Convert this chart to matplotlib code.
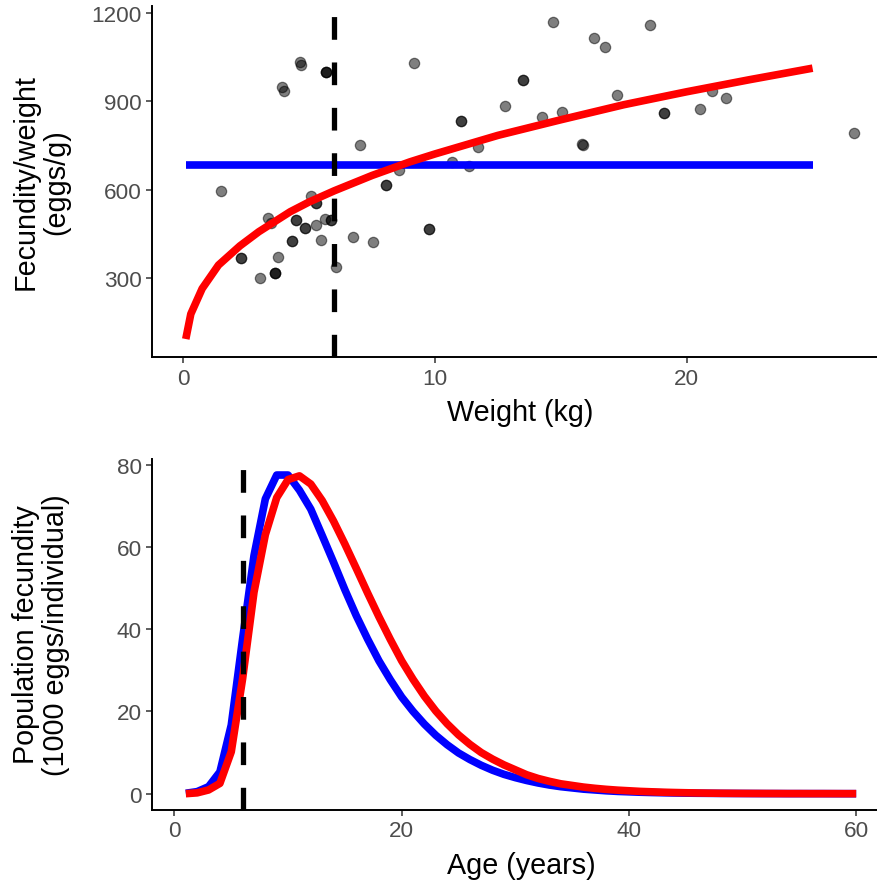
import matplotlib
matplotlib.use("Agg")
import matplotlib.pyplot as plt

plt.rcParams['font.family'] = ['Liberation Sans', 'DejaVu Sans']

# --- top panel: fecundity per unit weight vs weight
weight = [1.50, 2.28, 2.28, 3.05, 3.63, 3.63, 3.63, 3.76, 3.35, 3.47, 3.93, 4.00,
          4.32, 4.32, 4.47, 4.47, 4.64, 4.69, 4.84, 4.84, 5.07, 5.27, 5.27, 5.27,
          5.46, 5.64, 5.66, 5.66, 5.66, 5.87, 5.87, 6.07, 6.75, 7.03, 7.52, 8.05,
          8.05, 8.58, 9.17, 9.75, 9.75, 10.68, 11.02, 11.02, 11.35, 11.70, 12.79,
          13.51, 13.51, 14.25, 14.68, 15.06, 15.85, 15.89, 16.32, 16.77, 17.23,
          18.53, 19.09, 19.09, 20.52, 21.02, 21.57, 26.65]
fec_per_weight = [595, 370, 370, 300, 318, 318, 318, 372, 504, 487, 948, 936,
                  426, 426, 499, 499, 1033, 1025, 470, 470, 578, 554, 554, 481,
                  429, 501, 1001, 1001, 1001, 499, 499, 338, 440, 752, 422, 615,
                  615, 667, 1030, 466, 466, 695, 835, 835, 682, 746, 885,
                  974, 974, 848, 1170, 863, 757, 753, 1114, 1085, 923,
                  1158, 860, 860, 875, 936, 913, 794]

# fitted curves
fit_weight = [0.1, 0.3, 0.75, 1.4, 2.25, 3.0, 4.25, 5.0, 6.0, 7.5, 9.0, 10.0,
              12.5, 15.0, 17.5, 20.0, 22.5, 25.0]
fit_power = [94, 179, 265, 345, 410, 458, 526, 559, 597, 649, 695, 722,
             785, 838, 889, 933, 974, 1013]
const_weight = [0.1, 25.0]
const_fec = [684, 684]
mat_weight = 6

# --- bottom panel: population fecundity by age
ages = list(range(1, 61))
pop_const = [0.1, 0.5, 1.7, 5.3, 16.7, 37.7, 57.9, 71.7, 77.5, 77.5,
             73.8, 69.2, 62.8, 56.3, 49.6, 43.3, 37.6, 32.3, 27.7, 23.5,
             20.0, 16.9, 14.2, 11.9, 9.9, 8.3, 6.9, 5.7, 4.7, 3.9,
             3.2, 2.6, 2.1, 1.7, 1.4, 1.1, 0.9, 0.7, 0.55, 0.45,
             0.35, 0.28, 0.22, 0.17, 0.13, 0.1, 0.08, 0.06, 0.05, 0.04,
             0.03, 0.02, 0.02, 0.01, 0.01, 0.01, 0.01, 0, 0, 0]
pop_power = [0.0, 0.2, 0.9, 2.5, 10.2, 28.0, 49.0, 63.0, 72.0, 76.4,
             77.3, 75.3, 71.3, 66.3, 60.7, 54.8, 48.8, 43.0, 37.5, 32.3,
             27.8, 23.7, 20.1, 17.0, 14.3, 12.0, 10.0, 8.4, 7.0, 5.8,
             4.6, 3.7, 3.0, 2.4, 2.0, 1.6, 1.3, 1.05, 0.85, 0.7,
             0.55, 0.45, 0.35, 0.28, 0.22, 0.17, 0.13, 0.1, 0.08, 0.06,
             0.05, 0.04, 0.03, 0.02, 0.02, 0.01, 0.01, 0.01, 0, 0]
mat_age = 6

W, H = 878, 887
fig = plt.figure(figsize=(W / 100, H / 100), dpi=100)
ax1 = fig.add_axes([152.3 / W, 1 - 358.3 / H, (887.6 - 152.3) / W, (358.3 - 6.7) / H])
ax2 = fig.add_axes([152.3 / W, 1 - 810.7 / H, (889.7 - 152.3) / W, (810.7 - 460) / H])


def style(ax):
    for s in ['top', 'right']:
        ax.spines[s].set_visible(False)
    for s in ['left', 'bottom']:
        ax.spines[s].set_linewidth(1.4)
        ax.spines[s].set_color('black')
    ax.tick_params(length=4, width=1.1, color='#333333', labelcolor='#4D4D4D',
                   labelsize=16.2, pad=3.4)


lw = 5.5
dash = dict(color='black', lw=3.8, dashes=(4.3, 4.3))

# top
ax1.scatter(weight, fec_per_weight, s=55, c='black', alpha=0.5,
            edgecolors='black', linewidths=0.9, zorder=2)
ax1.plot(const_weight, const_fec, color='#0000FF', lw=lw, solid_capstyle='butt', zorder=3)
ax1.plot(fit_weight, fit_power, color='#FF0000', lw=lw, solid_capstyle='butt', zorder=4)
ax1.axvline(mat_weight, zorder=5, **dash)
ax1.set_xlim(-1.23, 27.98)
ax1.set_ylim(32, 1225)
ax1.set_xticks([0, 10, 20])
ax1.set_yticks([300, 600, 900, 1200])
style(ax1)
ax1.set_xlabel('Weight (kg)', fontsize=20.7, labelpad=7)

# bottom
ax2.plot(ages, pop_const, color='#0000FF', lw=lw, solid_capstyle='butt', zorder=3)
ax2.plot(ages, pop_power, color='#FF0000', lw=lw, solid_capstyle='butt', zorder=4)
ax2.axvline(mat_age, zorder=5, **dash)
ax2.set_xlim(-1.95, 62.95)
ax2.set_ylim(-3.9, 81.4)
ax2.set_xticks([0, 20, 40, 60])
ax2.set_yticks([0, 20, 40, 60, 80])
style(ax2)
ax2.set_xlabel('Age (years)', fontsize=20.7, labelpad=7)

fig.text(41 / W, 1 - 182.5 / H, 'Fecundity/weight\n(eggs/g)', rotation=90,
         ha='center', va='center', multialignment='center', fontsize=20.7,
         linespacing=1.1)
fig.text(41 / W, 1 - 635 / H, 'Population fecundity\n(1000 eggs/individual)', rotation=90,
         ha='center', va='center', multialignment='center', fontsize=20.7,
         linespacing=1.1)

fig.savefig('out.png', dpi=100)
